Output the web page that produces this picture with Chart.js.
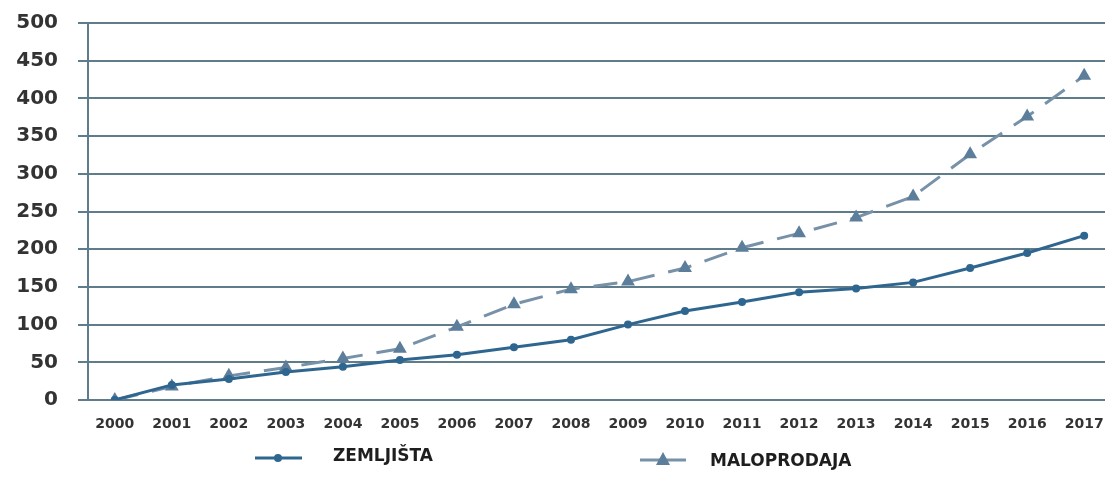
<!DOCTYPE html>
<html>
<head>
<meta charset="utf-8">
<script src="https://cdn.jsdelivr.net/npm/chart.js@4/dist/chart.umd.min.js"></script>
<style>
  html, body { margin: 0; padding: 0; background: #fff; }
  #wrap { width: 1113px; height: 488px; }
</style>
</head>
<body>
<div id="wrap"><canvas id="chart" width="1113" height="488"></canvas></div>
<script>
var years = [2000, 2001, 2002, 2003, 2004, 2005, 2006, 2007, 2008, 2009,
             2010, 2011, 2012, 2013, 2014, 2015, 2016, 2017];
var zemljista = [0, 20, 28, 37, 44, 53, 60, 70, 80, 100,
                 118, 130, 143, 148, 156, 175, 195, 218];
var maloprodaja = [0, 18, 32, 43, 55, 68, 97, 127, 147, 157,
                   175, 202, 221, 242, 270, 326, 376, 430];
var seriesNames = ["ZEMLJIŠTA", "MALOPRODAJA"];

var solidColor = "#2f6690";
var dashColor = "#7791a8";
var triColor = "#5c7e9b";
var gridColor = "#5f7c8a";
var textFont = "DejaVu Sans";

function toPoints(vals) {
  return vals.map(function (v, i) { return { x: years[i], y: v }; });
}

// legend drawn under the plot, like the original
var bottomLegend = {
  id: "bottomLegend",
  afterDraw: function (chart) {
    var ctx = chart.ctx;
    var y = 458;
    ctx.save();
    ctx.strokeStyle = solidColor;
    ctx.lineWidth = 3;
    ctx.beginPath(); ctx.moveTo(255, y); ctx.lineTo(302, y); ctx.stroke();
    ctx.fillStyle = solidColor;
    ctx.beginPath(); ctx.arc(278, y, 4, 0, Math.PI * 2); ctx.fill();
    ctx.strokeStyle = dashColor;
    ctx.beginPath(); ctx.moveTo(640, y + 2); ctx.lineTo(686, y + 2); ctx.stroke();
    ctx.fillStyle = triColor;
    ctx.beginPath(); ctx.moveTo(663, y - 6); ctx.lineTo(670, y + 7); ctx.lineTo(656, y + 7); ctx.closePath(); ctx.fill();
    ctx.fillStyle = "#1e1e1e";
    ctx.font = "bold 17px " + textFont;
    ctx.textBaseline = "middle";
    ctx.textAlign = "left";
    ctx.fillText(seriesNames[0], 333, y - 1);
    ctx.fillText(seriesNames[1], 710, y + 4);
    ctx.restore();
  }
};

new Chart(document.getElementById("chart"), {
  type: "line",
  data: {
    datasets: [
      {
        label: seriesNames[0],
        data: toPoints(zemljista),
        borderColor: solidColor,
        backgroundColor: solidColor,
        borderWidth: 3,
        pointRadius: 4,
        pointStyle: "circle",
        pointBorderWidth: 0,
        tension: 0
      },
      {
        label: seriesNames[1],
        data: toPoints(maloprodaja),
        borderColor: dashColor,
        backgroundColor: triColor,
        borderWidth: 3,
        borderDash: [24, 14],
        pointRadius: 8,
        pointStyle: "triangle",
        pointBorderWidth: 0,
        tension: 0
      }
    ]
  },
  options: {
    responsive: false,
    animation: false,
    layout: { padding: { top: 23, right: 0, bottom: 48, left: 0 } },
    plugins: { legend: { display: false }, tooltip: { enabled: false } },
    scales: {
      x: {
        type: "linear",
        min: 1999.53,
        max: 2017.365,
        afterBuildTicks: function (scale) {
          scale.ticks = years.map(function (yr) { return { value: yr }; });
        },
        afterFit: function (scale) {
          scale.height = 40;
          scale.paddingLeft = 0;
          scale.paddingRight = 0;
        },
        ticks: {
          autoSkip: false,
          maxRotation: 0,
          padding: 8,
          color: "#333",
          font: { family: textFont, size: 14, weight: "bold" },
          callback: function (v) { return String(v); }
        },
        grid: { display: false },
        border: { display: false }
      },
      y: {
        min: 0,
        max: 500,
        afterFit: function (scale) {
          scale.width = 88;
          scale.paddingTop = 0;
          scale.paddingBottom = 0;
        },
        ticks: {
          stepSize: 50,
          padding: 20,
          color: "#333",
          font: { family: textFont, size: 20, weight: "bold" }
        },
        grid: { color: gridColor, lineWidth: 2, tickLength: 10 },
        border: { display: true, color: gridColor, width: 2 }
      }
    }
  },
  plugins: [bottomLegend]
});
</script>
</body>
</html>
